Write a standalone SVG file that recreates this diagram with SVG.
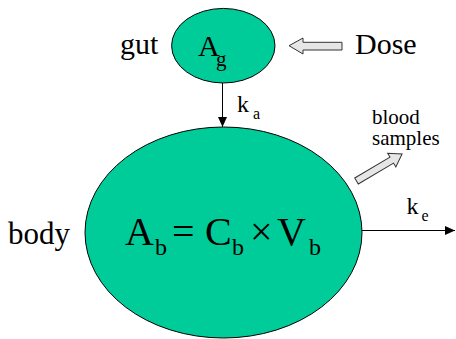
<svg xmlns="http://www.w3.org/2000/svg" width="456" height="339" viewBox="0 0 456 339">
<style>
.node{fill:#00CC99;stroke:#000;stroke-width:1}
.blk{fill:#E6E6E6;stroke:#333;stroke-width:1}
.ln{stroke:#000;stroke-width:1;fill:none}
</style>
<defs>
<marker id="ah" markerWidth="10" markerHeight="9" refX="10" refY="4.5" orient="auto" markerUnits="userSpaceOnUse">
<path d="M0,0 L10,4.5 L0,9 Z" fill="#000"/>
</marker>
</defs>
<rect width="456" height="339" fill="#fff"/>
<g id="connectors">
<line class="ln" x1="222.5" y1="83" x2="222.5" y2="127" marker-end="url(#ah)"/>
<line class="ln" x1="362" y1="230.5" x2="455" y2="230.5" marker-end="url(#ah)"/>
<polygon id="dose-arrow" class="blk" points="289,45.7 303,38 303,42.3 342,42.3 342,50 303,50 303,54"/>
<polygon id="blood-arrow" class="blk" transform="translate(356.5 181) rotate(-30.7)" points="0,-3.5 41,-3.5 41,-8 53,0 41,8 41,3.5 0,3.5"/>
<text font-family="Liberation Serif" font-size="24" x="237" y="112">k<tspan font-size="16" x="253" y="119">a</tspan></text>
<text font-family="Liberation Serif" font-size="24" x="406.5" y="214">k<tspan font-size="16" x="421.5" y="221">e</tspan></text>
</g>
<g id="gut">
<ellipse class="node" cx="223.3" cy="45.7" rx="51.7" ry="37.3"/>
<text font-family="Liberation Serif" font-size="30" x="198" y="56">A<tspan font-size="21" x="216" y="66">g</tspan></text>
<text font-family="Liberation Serif" font-size="30" x="120" y="54">gut</text>
</g>
<g id="dose">
<text font-family="Liberation Serif" font-size="30" x="355" y="54">Dose</text>
</g>
<g id="blood-samples">
<text font-family="Liberation Serif" font-size="21" x="372" y="124">blood</text>
<text font-family="Liberation Serif" font-size="21" x="372" y="145">samples</text>
</g>
<g id="body">
<ellipse class="node" cx="223.5" cy="232.5" rx="138.5" ry="105.5"/>
<text font-family="Liberation Serif" font-size="31" x="8" y="244">body</text>
<text font-family="Liberation Serif" font-size="40" y="245"><tspan x="125">A</tspan><tspan font-size="24" x="155" y="255">b</tspan><tspan x="172" y="245">=</tspan><tspan x="205" y="245">C</tspan><tspan font-size="24" x="232" y="255">b</tspan><tspan x="250" y="245">&#215;</tspan><tspan x="277" y="245">V</tspan><tspan font-size="24" x="309" y="255">b</tspan></text>
</g>
</svg>
